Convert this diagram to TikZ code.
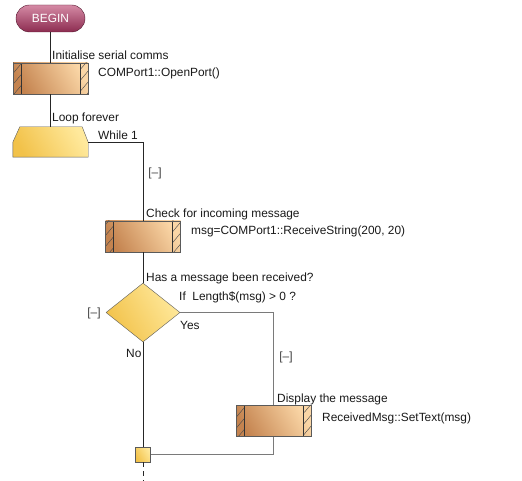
\documentclass[tikz,border=0pt]{standalone}
\usepackage{fontspec}
\setmainfont{Liberation Sans}
\usetikzlibrary{shapes}
\usetikzlibrary{arrows}
\usetikzlibrary{patterns.meta}
\definecolor{woodlo}{HTML}{C4834F}
\definecolor{woodhi}{HTML}{FAD6A6}
\definecolor{goldlo}{HTML}{F2C24A}
\definecolor{goldhi}{HTML}{FFE99C}
\definecolor{wine}{HTML}{8C2C50}
\definecolor{winehi}{HTML}{D58AA5}
\definecolor{edge}{HTML}{5A5A5A}
\definecolor{branch}{HTML}{7A7A7A}

\begin{document}
\begin{tikzpicture}[x=1pt,y=-1pt,font=\fontsize{11.9}{14}\selectfont,
	terminal/.style={rounded rectangle,draw=wine!60!black,top color=winehi,bottom color=wine,text=white,minimum width=69pt,minimum height=27pt,inner sep=0pt},
	activity/.style={rectangle,draw=edge,minimum width=75pt,minimum height=31pt,inner sep=0pt,left color=woodlo,right color=woodhi,shading angle=120,
		path picture={
			\draw[black!80,pattern={Lines[angle=50,distance=7pt,line width=0.45pt]},pattern color=black!70] (path picture bounding box.south west) rectangle ++(8pt,31pt);
			\draw[black!80,pattern={Lines[angle=50,distance=7pt,line width=0.45pt]},pattern color=black!70] (path picture bounding box.south east) rectangle ++(-8pt,31pt);
		}},
	loopbox/.style={rectangle,minimum width=75pt,minimum height=30pt,inner sep=0pt},
	loopfill/.style={draw=edge,left color=goldlo,right color=goldhi,shading angle=120},
	decision/.style={diamond,draw=edge,minimum width=74pt,minimum height=59pt,inner sep=0pt,left color=goldlo,right color=goldhi,shading angle=120},
	junction/.style={rectangle,draw=edge,minimum size=15pt,inner sep=0pt,left color=goldlo,right color=goldhi,shading angle=120},
	note/.style={anchor=base west,inner sep=0pt,text=black!90},
	fold/.style={inner sep=0pt,text=black!75},
	flow/.style={draw=black!85,line width=0.7pt},
	side/.style={draw=branch,line width=0.8pt}]
	\useasboundingbox (0,0) rectangle (522,481);
	\node[terminal] (begin) at (50.5,18.5) {BEGIN};
	\node[activity] (serial) at (50.5,78.5) {};
	\node[loopbox] (loop) at (50.5,142) {};
	\coordinate (loopout) at ([yshift=15pt]loop.south east);
	\node[activity] (check) at (143,236.5) {};
	\node[decision] (received) at (143,312.5) {};
	\node[activity] (display) at (273.5,421) {};
	\node[junction] (join) at (143,454.5) {};
	\coordinate (tail) at (143,481);
	\draw[loopfill] (loop.south west) -- ([yshift=15pt]loop.south west) -- ([xshift=7pt]loop.north west) -- ([xshift=-6pt]loop.north east) -- (loopout) -- (loop.south east) -- cycle;
	\draw[flow] (begin) -- (serial);
	\draw[flow] (serial) -- (loop);
	\draw[flow] (loopout) -| (check.north);
	\draw[flow] (check) -- (received);
	\draw[flow] (received.south) -- (join);
	\draw[side] (received.east) -| (display.north);
	\draw[side] (display.south) |- (join.east);
	\draw[flow,dash pattern=on 5pt off 4pt] (join) -- (tail);
	\node[note] (serialtxt) at (52,60) {Initialise serial comms};
	\node[note] (serialcode) at (98,77) {COMPort1::OpenPort()};
	\node[note] (looptxt) at (52,122) {Loop forever};
	\node[note] (loopcond) at (98,140) {While 1};
	\node[fold] (foldloop) at (155,173) {[--]};
	\node[note] (checktxt) at (146,218) {Check for incoming message};
	\node[note] (checkcode) at (191,235) {msg=COMPort1::ReceiveString(200, 20)};
	\node[note] (asktxt) at (146,281) {Has a message been received?};
	\node[note] (askcond) at (179,300) {If\ \ Length\$(msg) > 0 ?};
	\node[fold] (foldno) at (94,313) {[--]};
	\node[note] (yes) at (180,329) {Yes};
	\node[note] (no) at (126,357) {No};
	\node[fold] (foldyes) at (286,357) {[--]};
	\node[note] (displaytxt) at (277,402) {Display the message};
	\node[note] (displaycode) at (322,421) {ReceivedMsg::SetText(msg)};
\end{tikzpicture}
\end{document}
